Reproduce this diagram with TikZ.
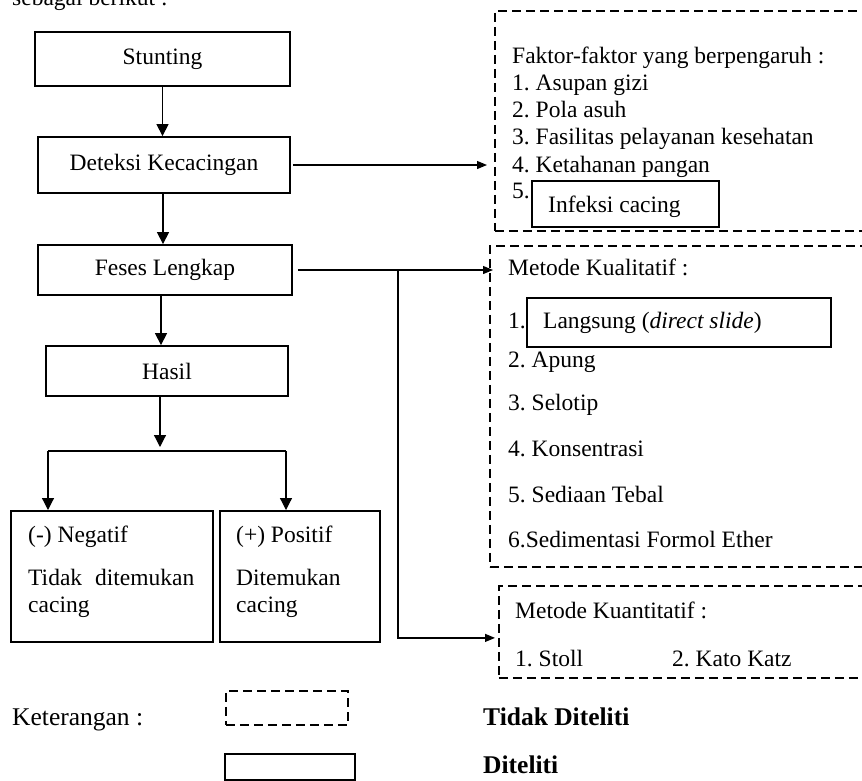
\documentclass[tikz,border=0pt]{standalone}
\usepackage{fontspec}
\setmainfont{Liberation Serif}
\usetikzlibrary{arrows.meta}
\frenchspacing
\begin{document}
\frenchspacing
\begin{tikzpicture}[x=1pt,y=-1pt,
  every node/.style={font=\fontsize{23.5}{27}\selectfont},
  sbox/.style={draw, line width=1.8pt, inner sep=0pt},
  dbox/.style={draw, line width=1.8pt, dash pattern=on 9pt off 5pt, inner sep=0pt},
  txt/.style={anchor=base west, inner sep=0pt},
  legtxt/.style={txt, font=\fontsize{25.5}{29}\selectfont},
  conn/.style={line width=1.2pt},
  varr/.style={conn, -{Triangle[length=12pt,width=12pt]}},
  harr/.style={conn, -{Triangle[length=10pt,width=8pt]}},
]
\useasboundingbox (0,0) rectangle (862,780);

\node[txt] (intro) at (12,5) {sebagai berikut :};

% left column
\node[sbox, minimum width=255pt, minimum height=54pt] (stunting) at (162.5,59) {Stunting};
\node[sbox, minimum width=252pt, minimum height=56pt] (deteksi) at (164,165) {Deteksi Kecacingan};
\node[sbox, minimum width=254pt, minimum height=50pt] (feses) at (165,270) {Feses Lengkap};
\node[sbox, minimum width=242pt, minimum height=50pt] (hasil) at (167,371) {Hasil};

\node[sbox, anchor=north west, minimum width=202pt, minimum height=131pt] (neg) at (10,510) {};
\node[sbox, anchor=north west, minimum width=160pt, minimum height=131pt] (pos) at (219,510) {};
\node[txt] (neg1) at (28,542) {(-) Negatif};
\node[txt] (neg2) at (28,585) {Tidak\hspace{0.55em}ditemukan};
\node[txt] (neg3) at (28,612) {cacing};
\node[txt] (pos1) at (236,542) {(+) Positif};
\node[txt] (pos2) at (236,585) {Ditemukan};
\node[txt] (pos3) at (236,612) {cacing};

% right column: dashed boxes
\node[dbox, anchor=north west, minimum width=400pt, minimum height=220pt] (faktor) at (494,10) {};
\node[txt] (f0) at (512,63) {Faktor-faktor yang berpengaruh :};
\node[txt] (f1) at (512,90) {1. Asupan gizi};
\node[txt] (f2) at (512,117) {2. Pola asuh};
\node[txt] (f3) at (512,144) {3. Fasilitas pelayanan kesehatan};
\node[txt] (f4) at (512,172) {4. Ketahanan pangan};
\node[txt] (f5) at (512,198) {5.};
\node[sbox, anchor=north west, minimum width=187pt, minimum height=46pt] (infeksi) at (531,180) {};
\node[txt] (infekt) at (548,212) {Infeksi cacing};

\node[dbox, anchor=north west, minimum width=400pt, minimum height=321pt] (kual) at (489,245) {};
\node[txt] (k0) at (508,275) {Metode Kualitatif :};
\node[txt] (k1) at (508,328) {1.};
\node[sbox, anchor=north west, minimum width=304pt, minimum height=49pt] (langsung) at (526,297) {};
\node[txt] (langt) at (543,328) {Langsung (\textit{direct slide})};
\node[txt] (k2) at (508,367) {2. Apung};
\node[txt] (k3) at (508,410) {3. Selotip};
\node[txt] (k4) at (508,456) {4. Konsentrasi};
\node[txt] (k5) at (508,502) {5. Sediaan Tebal};
\node[txt] (k6) at (508,547) {6.Sedimentasi Formol Ether};

\node[dbox, anchor=north west, minimum width=390pt, minimum height=92pt] (kuan) at (498,585) {};
\node[txt] (q0) at (515,618) {Metode Kuantitatif :};
\node[txt] (q1) at (515,666) {1. Stoll};
\node[txt] (q2) at (672,666) {2. Kato Katz};

% legend
\node[legtxt] (ket) at (12,725) {Keterangan :};
\node[dbox, anchor=north west, minimum width=122pt, minimum height=34pt] (legd) at (225,690) {};
\node[sbox, anchor=north west, minimum width=130pt, minimum height=26pt] (legs) at (224,753) {};
\node[legtxt, font=\fontsize{25.5}{29}\selectfont\bfseries] (tdk) at (483,725) {Tidak Diteliti};
\node[legtxt, font=\fontsize{25.5}{29}\selectfont\bfseries] (dit) at (483,773) {Diteliti};

% connectors
\coordinate (br) at (398,270);
\coordinate (sM) at (160,451);
\coordinate (sL) at (48,451);
\coordinate (sR) at (286,451);

\draw[varr] (stunting.south) -- (stunting.south |- deteksi.north);
\draw[varr] ([xshift=-1pt]deteksi.south) -- ([xshift=-1pt]deteksi.south |- feses.north);
\draw[varr] ([xshift=-4pt]feses.south) -- ([xshift=-4pt]feses.south |- hasil.north);
\draw[harr, shorten >=7pt] ([xshift=2pt]deteksi.east) -- (deteksi.east -| faktor.west);
\draw[harr, shorten >=-4pt] ([xshift=5pt]feses.east) -- (feses.east -| kual.west);
\draw[harr, shorten >=3pt] (br) |- ([yshift=-6pt]kuan.west);
\draw[varr] (hasil.south -| sM) -- ([yshift=4pt]sM);
\draw[conn] (sL) -- (sR);
\draw[varr] (sL) -- (sL |- neg.north);
\draw[varr] (sR) -- (sR |- pos.north);
\end{tikzpicture}
\end{document}
